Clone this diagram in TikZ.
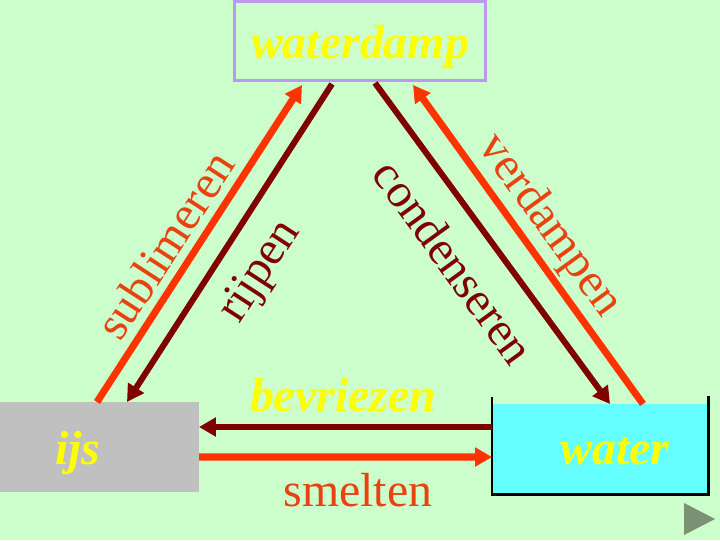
\documentclass[tikz,border=0pt]{standalone}
\usepackage{fontspec}
\setmainfont{Liberation Serif}
\usepackage{tikz}
\usetikzlibrary{calc, positioning, arrows.meta}
\definecolor{achtergrond}{RGB}{204,255,204}
\definecolor{oranjerood}{RGB}{255,51,0}
\definecolor{tekstoranje}{RGB}{232,66,16}
\definecolor{donkerrood}{RGB}{128,0,0}
\definecolor{lila}{RGB}{187,153,238}
\definecolor{ijsgrijs}{RGB}{192,192,192}
\definecolor{watercyaan}{RGB}{102,255,255}
\definecolor{geel}{RGB}{255,255,0}
\definecolor{knopgrijs}{RGB}{122,145,115}
\newcommand{\groot}{\fontsize{34}{40}\selectfont}

\begin{document}
\begin{tikzpicture}[x=0.025cm, y=-0.025cm,
  fase/.style={text=geel, font=\groot\bfseries\itshape, inner sep=0pt},
  proces/.style={font=\groot, inner sep=0pt},
  heen/.style={-{Triangle[length=12pt,width=13pt]}, line width=5pt, oranjerood},
  terug/.style={-{Triangle[length=12pt,width=13pt]}, line width=4.3pt, donkerrood}]
\fill[achtergrond] (0,0) rectangle (720,540);
\useasboundingbox (0,0) rectangle (720,540);
% nodes %
\node[draw=lila, line width=2.1pt, fill=achtergrond, minimum width=6.275cm, minimum height=1.975cm] (damp) at (360,41) {};
\node[fill=ijsgrijs, outer sep=0pt, minimum width=4.975cm, minimum height=2.25cm] (ijs) at (99.5,447) {};
\node[fill=watercyaan, outer sep=0pt, minimum width=5.4cm, minimum height=2.225cm] (water) at (600,448.5) {};
\draw[line width=2.1pt] ([shift={(0,-7)}]water.north west) -- ([shift={(0,1)}]water.south west) -- ([shift={(0,1)}]water.south east) -- ([shift={(0,-8)}]water.north east);
\node[fase] (dampnaam) at (360,47) {waterdamp};
\node[fase] (ijsnaam) at (78,453) {ijs};
\node[fase] (waternaam) at (615,451) {water};
% labels %
\node[proces, text=tekstoranje, rotate=57] (sub) at (165,245) {sublimeren};
\node[proces, text=donkerrood, rotate=57] (rijp) at (261,272) {rijpen};
\node[proces, text=donkerrood, rotate=-54] (cond) at (454,262) {condenseren};
\node[proces, text=tekstoranje, rotate=-54] (verd) at (549,226) {verdampen};
\node[fase] (bevr) at (343,395) {bevriezen};
\node[proces, text=tekstoranje] (smelt) at (358,490) {smelten};
% edges %
\draw[heen] ([shift={(-2.5,0)}]ijs.north) -- ([shift={(-58,3)}]damp.south);
\draw[terug] ([shift={(-28,2)}]damp.south) -- ([shift={(27.5,0)}]ijs.north);
\draw[terug] ([shift={(15,1)}]damp.south) -- ([shift={(10,0)}]water.north);
\draw[heen] ([shift={(43,0)}]water.north) -- ([shift={(53,3)}]damp.south);
\draw[terug] ([shift={(0,-21.5)}]water.west) -- ([shift={(0,-20)}]ijs.east);
\draw[heen] ([shift={(0,10)}]ijs.east) -- ([shift={(0,8.5)}]water.west);
% knop %
\fill[knopgrijs] (684,503) -- (684,535) -- (715,519) -- cycle;
\end{tikzpicture}
\end{document}
